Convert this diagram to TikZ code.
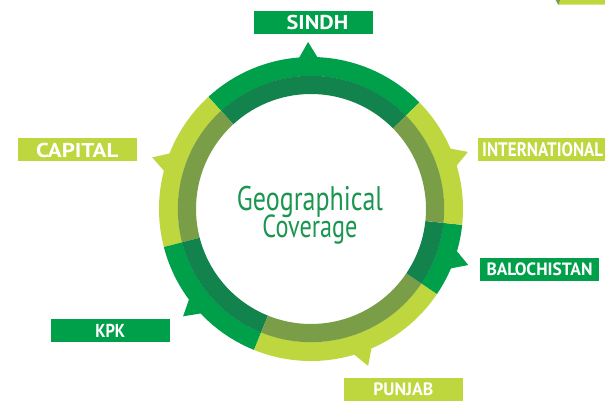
\documentclass[tikz,border=0pt]{standalone}
\usepackage{fontspec}
\usepackage{graphicx}
\setmainfont{PT Sans}
\definecolor{limeC}{RGB}{190,215,63}
\definecolor{oliveC}{RGB}{122,158,72}
\definecolor{greenC}{RGB}{0,160,75}
\definecolor{dgreenC}{RGB}{19,131,77}
\definecolor{textC}{RGB}{26,150,80}
\tikzset{
  lbox/.style={fill=#1, inner sep=0pt, minimum width=119pt, minimum height=23pt, text=white, font=\bfseries},
}
\newcommand{\ringseg}[5]{%
  \fill[#5] (#1:#4) arc[start angle=#1, end angle=#2, radius=#4 pt] -- (#2:#3) arc[start angle=#2, end angle=#1, radius=#3 pt] -- cycle;}
\newcommand{\pointer}[2]{%
  \fill[#2] (#1-4.2:149) -- (#1:167) -- (#1+4.2:149) -- cycle;}
\begin{document}
\begin{tikzpicture}[x=1pt,y=1pt]
\useasboundingbox (0,0) rectangle (605,401);
\fill[white] (0,0) rectangle (605,401);
% top-right fragment
\fill[limeC] (560,401) -- (605,401) -- (605,396.3) -- (559,396.3) -- cycle;
\fill[oliveC] (555.7,401) -- (560,401) -- (559,396.3) -- (558.2,396.3) -- cycle;
\begin{scope}[shift={(311,192)}]
  % pointers
  \pointer{91}{greenC}
  \pointer{20}{limeC}
  \pointer{-19.6}{greenC}
  \pointer{-70}{limeC}
  \pointer{220}{greenC}
  \pointer{162}{limeC}
  % outer band
  \ringseg{44.5}{132.5}{133}{152}{greenC}
  \ringseg{132.5}{194.5}{133}{152}{limeC}
  \ringseg{194.5}{248}{133}{152}{greenC}
  \ringseg{248}{326}{133}{152}{limeC}
  \ringseg{326}{354}{133}{152}{greenC}
  \ringseg{354}{404.5}{133}{152}{limeC}
  % inner band
  \ringseg{44.5}{132.5}{115}{133.2}{dgreenC}
  \ringseg{132.5}{194.5}{115}{133.2}{oliveC}
  \ringseg{194.5}{248}{115}{133.2}{dgreenC}
  \ringseg{248}{326}{115}{133.2}{oliveC}
  \ringseg{326}{354}{115}{133.2}{dgreenC}
  \ringseg{354}{404.5}{115}{133.2}{oliveC}
\end{scope}
% centre text
\node[anchor=base, inner sep=0pt, text=textC] (geo) at (310,163) {\vbox{\baselineskip=27pt\lineskiplimit=-100pt
  \hbox{\resizebox{146pt}{24.3pt}{Geographical}}
  \hbox to 146pt{\hss\resizebox{95pt}{22.7pt}{Coverage}\hss}}};
% labels
\node[lbox=greenC] (sindh) at (313.5,378.5) {\hspace*{8pt}\resizebox{61.6pt}{14.3pt}{SINDH}};
\node[lbox=limeC, anchor=west, minimum width=127pt] (intl) at (478,251.5) {\hspace*{4pt}\resizebox{121pt}{14pt}{INTERNATIONAL}\hspace*{2pt}};
\node[lbox=greenC] (balo) at (539.5,131.8) {\resizebox{106pt}{12.7pt}{BALOCHISTAN}};
\node[lbox=limeC, minimum height=23.4pt] (punjab) at (403.3,11.7) {\resizebox{60pt}{12.7pt}{PUNJAB}};
\node[lbox=limeC] (capital) at (77.2,251) {\resizebox{82.3pt}{14.3pt}{CAPITAL}};
\node[lbox=greenC] (kpk) at (110.3,70.2) {\resizebox{29.7pt}{13.3pt}{KPK}};
\end{tikzpicture}
\end{document}
